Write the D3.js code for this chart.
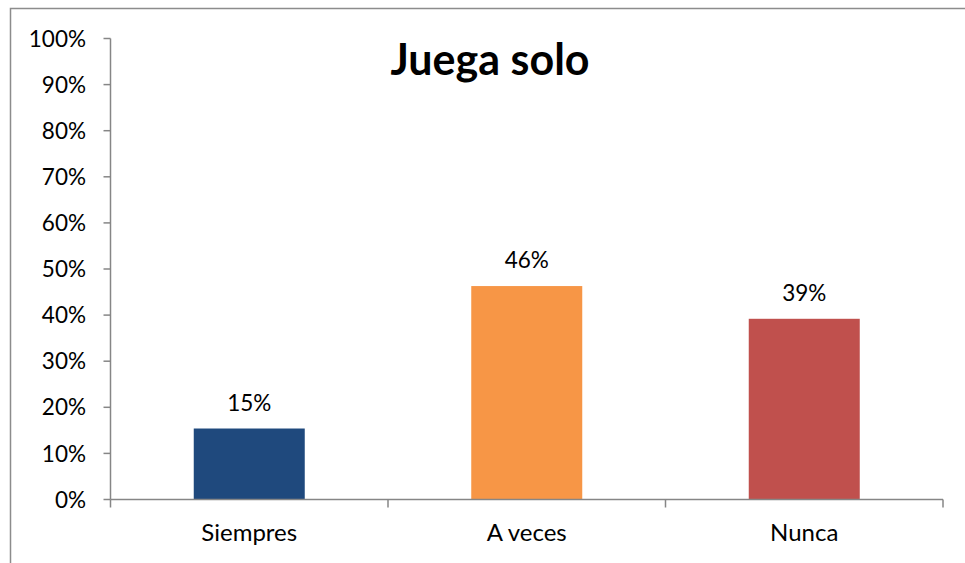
<!DOCTYPE html>
<html><head><meta charset="utf-8">
<script src="https://cdn.jsdelivr.net/npm/d3@7/dist/d3.min.js"></script>
<style>body{margin:0;background:#fff}svg{display:block}text{font-family:Lato,"Open Sans",sans-serif;fill:#000}</style>
</head><body>
<script>
const categories = ["Siempres", "A veces", "Nunca"];
const values = [0.154, 0.463, 0.392];
const valueLabels = ["15%", "46%", "39%"];
const colors = ["#1F497D", "#F79646", "#C0504D"];
const yTicks = [0,0.1,0.2,0.3,0.4,0.5,0.6,0.7,0.8,0.9,1];
const title = "Juega solo";

const W = 965, H = 563;
const svg = d3.select("body").append("svg").attr("width", W).attr("height", H);
svg.append("rect").attr("x", 10.5).attr("y", 8.5).attr("width", 970).attr("height", 600)
  .attr("fill", "none").attr("stroke", "#8c8c8c").attr("stroke-width", 1.5);

const x0 = 110.5, x1 = 943, yTop = 38.5, yBot = 499.5;
const x = d3.scaleBand().domain(categories).range([x0, x1]).paddingInner(0.6).paddingOuter(0.3);
const y = d3.scaleLinear().domain([0, 1]).range([yBot, yTop]);

const axisColor = "#868686";
// y axis
const yg = svg.append("g");
yg.append("line").attr("x1", x0).attr("x2", x0).attr("y1", y(1)).attr("y2", y(0)).attr("stroke", axisColor).attr("stroke-width", 1.5);
yTicks.forEach(t => {
  yg.append("line").attr("x1", x0 - 7).attr("x2", x0).attr("y1", y(t)).attr("y2", y(t)).attr("stroke", axisColor).attr("stroke-width", 1.5);
  yg.append("text").attr("x", 86).attr("y", y(t)).attr("dy", "0.36em").attr("text-anchor", "end")
    .attr("font-size", 22.5).text(d3.format(".0%")(t));
});
// bars
svg.selectAll("rect.bar").data(categories).enter().append("rect").attr("class", "bar")
  .attr("x", d => x(d)).attr("width", x.bandwidth())
  .attr("y", (d, i) => y(values[i])).attr("height", (d, i) => y(0) - y(values[i]))
  .attr("fill", (d, i) => colors[i]);
// x axis
const xg = svg.append("g");
xg.append("line").attr("x1", x0).attr("x2", x1).attr("y1", yBot).attr("y2", yBot).attr("stroke", axisColor).attr("stroke-width", 1.5);
d3.range(categories.length + 1).forEach(i => {
  const bx = x0 + (x1 - x0) / categories.length * i;
  xg.append("line").attr("x1", bx).attr("x2", bx).attr("y1", yBot).attr("y2", yBot + 8).attr("stroke", axisColor).attr("stroke-width", 1.5);
});
categories.forEach(c => {
  xg.append("text").attr("x", x(c) + x.bandwidth() / 2).attr("y", 541).attr("text-anchor", "middle")
    .attr("font-size", 24).text(c);
});
// value labels
categories.forEach((c, i) => {
  svg.append("text").attr("x", x(c) + x.bandwidth() / 2).attr("y", y(values[i]) - 18).attr("text-anchor", "middle")
    .attr("font-size", 22.5).text(valueLabels[i]);
});
// title
svg.append("text").attr("x", 490).attr("y", 75).attr("text-anchor", "middle")
  .attr("font-size", 43).attr("font-weight", "bold").text(title);
</script>
</body></html>
